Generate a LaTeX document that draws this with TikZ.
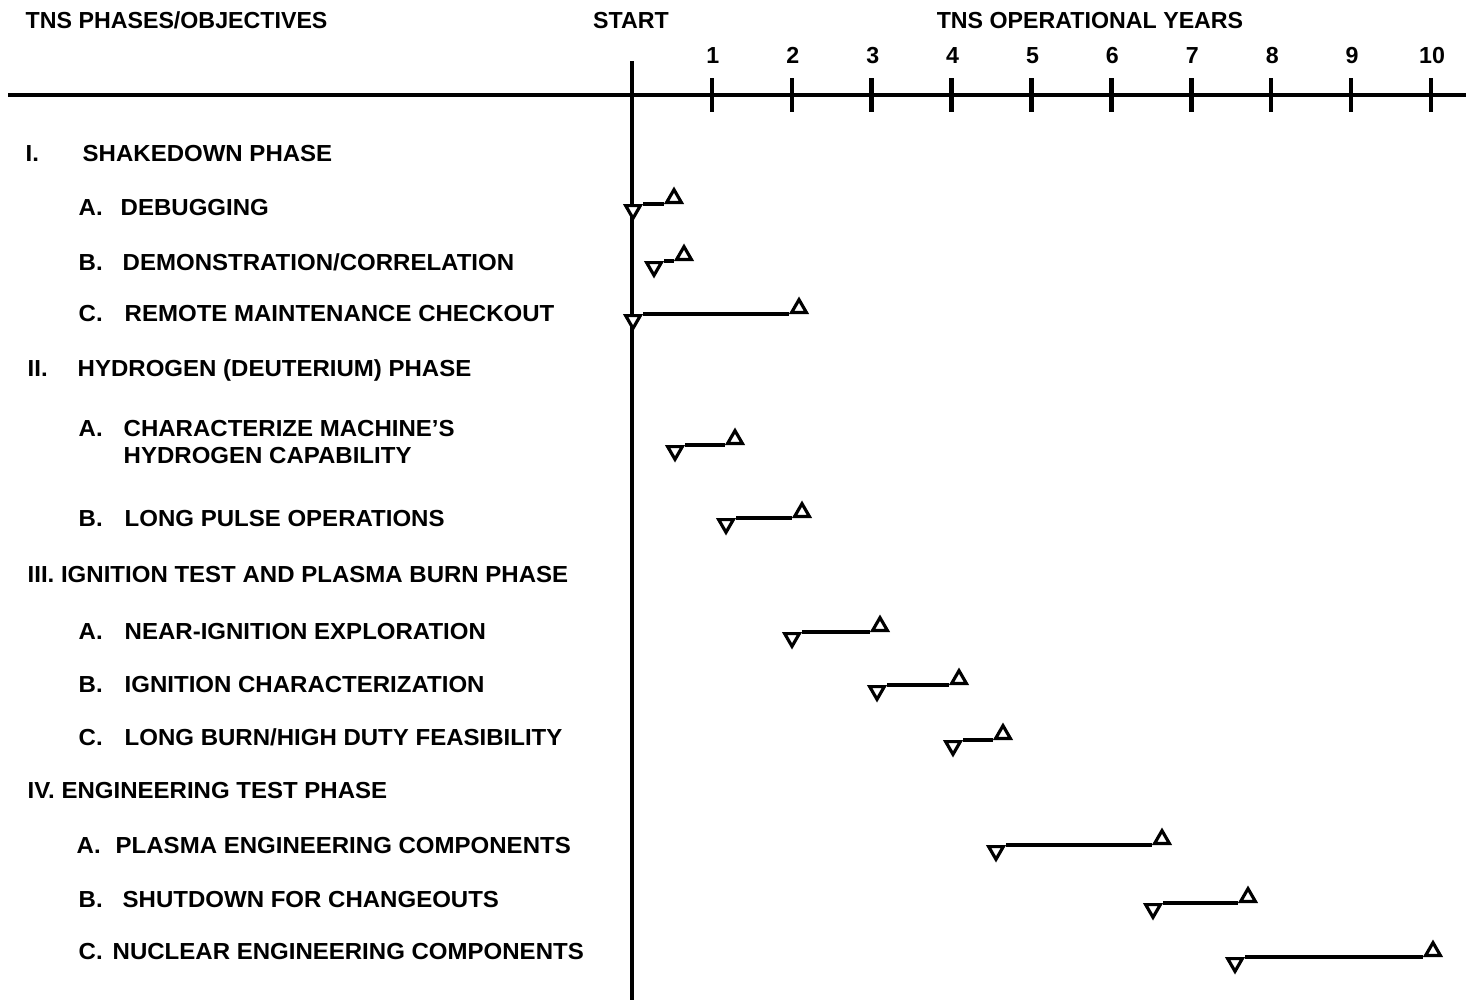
\documentclass[tikz,border=0pt]{standalone}
\usepackage{fontspec}
\setmainfont{Liberation Sans}
\newfontfamily\ancho{Liberation Sans}[FakeStretch=1.035]
\usetikzlibrary{shapes.geometric}

\begin{document}
\begin{tikzpicture}[x=0.01cm, y=-0.01cm,
    txt/.style={anchor=west, inner sep=0pt, text height=4.7pt, text depth=0pt,
      font=\ancho\fontsize{6.6}{7}\selectfont\bfseries},
    cab/.style={txt, font=\fontsize{6.6}{7}\selectfont\bfseries},
    num/.style={cab, anchor=center},
    ini/.style={regular polygon, regular polygon sides=3, shape border rotate=180,
      draw, line width=0.9pt, fill=white, inner sep=0pt, minimum size=0.17cm, anchor=side 2},
    fin/.style={regular polygon, regular polygon sides=3,
      draw, line width=0.9pt, fill=white, inner sep=0pt, minimum size=0.17cm, anchor=side 2},
    barra/.style={line width=1.1pt}]
  \useasboundingbox (0,0) rectangle (1466,1000);

  % Encabezados
  \node[cab] (tit) at (25,20) {TNS PHASES/OBJECTIVES};
  \node[num] (start) at (631,20) {START};
  \node[num] (anios) at (1090,20) {TNS OPERATIONAL YEARS};

  % Ejes
  \draw[line width=1pt] (8,95) -- (1466,95);
  \draw[line width=1.2pt] (632,61) -- (632,1000);
  \foreach \i in {1,...,10} {
    \draw[line width=1.3pt] ({632+79.9*\i},78) -- ({632+79.9*\i},112);
    \node[num] (a\i) at ({633+79.9*\i},55) {\i};
  }

  % Fase I
  \node[txt] (n1) at (25,153) {I.};
  \node[txt] (t1) at (82,153) {SHAKEDOWN PHASE};
  \node[txt] (n1a) at (78,207) {A.};
  \node[txt] (t1a) at (120,207) {DEBUGGING};
  \node[txt] (n1b) at (78,262) {B.};
  \node[txt] (t1b) at (122,262) {DEMONSTRATION/CORRELATION};
  \node[txt] (n1c) at (78,313) {C.};
  \node[txt] (t1c) at (124,313) {REMOTE MAINTENANCE CHECKOUT};

  % Fase II
  \node[txt] (n2) at (27,368) {II.};
  \node[txt] (t2) at (77,368) {HYDROGEN (DEUTERIUM) PHASE};
  \node[txt] (n2a) at (78,428) {A.};
  \node[txt] (t2a) at (123,428) {CHARACTERIZE MACHINE’S};
  \node[txt] (t2a2) at (123,455) {HYDROGEN CAPABILITY};
  \node[txt] (n2b) at (78,518) {B.};
  \node[txt] (t2b) at (124,518) {LONG PULSE OPERATIONS};

  % Fase III
  \node[txt] (t3) at (27,574) {III. IGNITION TEST AND PLASMA BURN PHASE};
  \node[txt] (n3a) at (78,631) {A.};
  \node[txt] (t3a) at (124,631) {NEAR-IGNITION EXPLORATION};
  \node[txt] (n3b) at (78,684) {B.};
  \node[txt] (t3b) at (124,684) {IGNITION CHARACTERIZATION};
  \node[txt] (n3c) at (78,737) {C.};
  \node[txt] (t3c) at (124,737) {LONG BURN/HIGH DUTY FEASIBILITY};

  % Fase IV
  \node[txt] (t4) at (27,790) {IV. ENGINEERING TEST PHASE};
  \node[txt] (n4a) at (76,845) {A.};
  \node[txt] (t4a) at (115,845) {PLASMA ENGINEERING COMPONENTS};
  \node[txt] (n4b) at (78,899) {B.};
  \node[txt] (t4b) at (122,899) {SHUTDOWN FOR CHANGEOUTS};
  \node[txt] (n4c) at (78,951) {C.};
  \node[txt] (t4c) at (112,951) {NUCLEAR ENGINEERING COMPONENTS};

  % Barras
  \node[ini] (i1a) at (633,204) {};  \node[fin] (f1a) at (674,204) {};
  \node[ini] (i1b) at (654,261) {};  \node[fin] (f1b) at (684,261) {};
  \node[ini] (i1c) at (633,314) {};  \node[fin] (f1c) at (799,314) {};
  \node[ini] (i2a) at (675,445) {};  \node[fin] (f2a) at (735,445) {};
  \node[ini] (i2b) at (726,518) {};  \node[fin] (f2b) at (802,518) {};
  \node[ini] (i3a) at (792,632) {};  \node[fin] (f3a) at (880,632) {};
  \node[ini] (i3b) at (877,685) {};  \node[fin] (f3b) at (959,685) {};
  \node[ini] (i3c) at (953,740) {};  \node[fin] (f3c) at (1003,740) {};
  \node[ini] (i4a) at (996,845) {};  \node[fin] (f4a) at (1162,845) {};
  \node[ini] (i4b) at (1153,903) {}; \node[fin] (f4b) at (1248,903) {};
  \node[ini] (i4c) at (1235,957) {}; \node[fin] (f4c) at (1433,957) {};
  \foreach \b in {1a,1b,1c,2a,2b,3a,3b,3c,4a,4b,4c}
    \draw[barra] (i\b.corner 2) -- (f\b.corner 2);
\end{tikzpicture}
\end{document}
